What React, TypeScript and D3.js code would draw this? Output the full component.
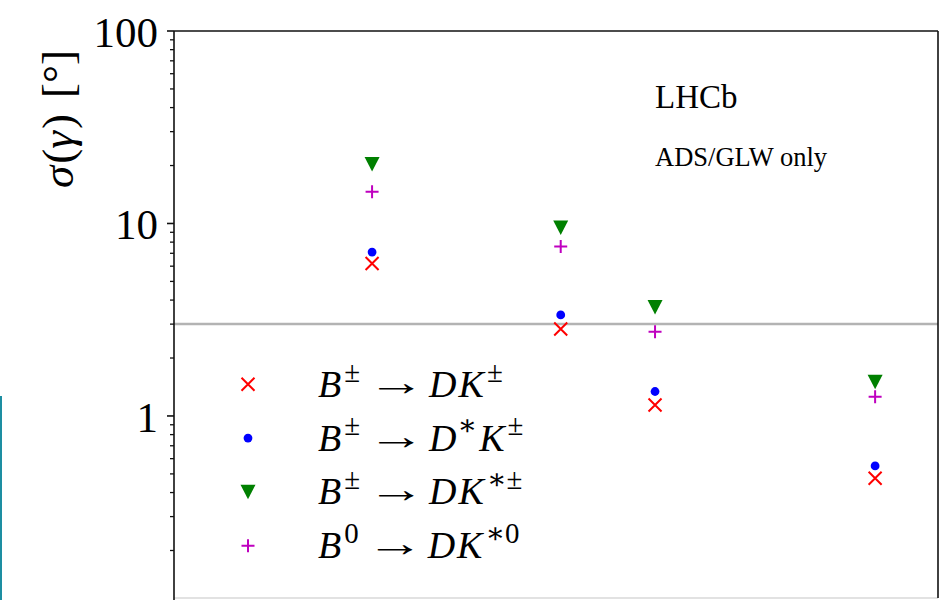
import React, { useLayoutEffect, useRef, useState } from "react";
import * as d3 from "d3";

// ---- Data ----
const stages = [2012, 2018, 2021, 2028];
const seriesKeys = ["dk", "dstark", "dkstar", "b0"];
const dkValues = [6.2, 2.83, 1.14, 0.475];
const dstarkValues = [7.1, 3.35, 1.34, 0.55];
const dkstarValues = [20.3, 9.5, 3.67, 1.5];
const b0Values = [14.6, 7.6, 2.74, 1.26];
const referenceValue = 3;
const majorTicks = [1, 10, 100];
const majorTickLabels = ["1", "10", "100"];

const W = 942;
const H = 600;
const M = { left: 174, right: 938, top: 31, bottom: 598 };

const x = d3.scaleLinear().domain([2005.7, 2030]).range([M.left, M.right]);
const y = d3.scaleLog().domain([0.1133, 100]).range([M.bottom, M.top]);

const minorTicks: number[] = [];
for (const e of [0.1, 1, 10]) {
  for (let k = 2; k <= 9; k++) {
    const v = k * e;
    if (v >= 0.1133 && v <= 100) minorTicks.push(v);
  }
}

type Part = { t: string; it?: boolean; sup?: boolean; dx?: number };

const seriesValues: Record<string, number[]> = {
  dk: dkValues,
  dstark: dstarkValues,
  dkstar: dkstarValues,
  b0: b0Values,
};

const seriesColor: Record<string, string> = {
  dk: "#ff0000",
  dstark: "#0000ff",
  dkstar: "#008000",
  b0: "#bf00bf",
};

const seriesLhs: Record<string, Part[]> = {
  dk: [{ t: "B", it: true }, { t: "±", sup: true, dx: 3 }],
  dstark: [{ t: "B", it: true }, { t: "±", sup: true, dx: 3 }],
  dkstar: [{ t: "B", it: true }, { t: "±", sup: true, dx: 3 }],
  b0: [{ t: "B", it: true }, { t: "0", sup: true, dx: 3 }],
};

const seriesRhs: Record<string, Part[]> = {
  dk: [
    { t: "D", it: true },
    { t: "K", it: true, dx: 2 },
    { t: "±", sup: true, dx: 3 },
  ],
  dstark: [
    { t: "D", it: true },
    { t: "∗", sup: true, dx: 1 },
    { t: "K", it: true, dx: 2 },
    { t: "±", sup: true, dx: 3 },
  ],
  dkstar: [
    { t: "D", it: true },
    { t: "K", it: true, dx: 2 },
    { t: "∗±", sup: true, dx: 3 },
  ],
  b0: [
    { t: "D", it: true },
    { t: "K", it: true, dx: 2 },
    { t: "∗0", sup: true, dx: 3 },
  ],
};

const SERIF = "'Liberation Serif', 'DejaVu Serif', serif";

function Marker({ kind, color }: { kind: string; color: string }) {
  const s = 6.5;
  if (kind === "dk")
    return (
      <path
        d={`M${-s},${-s}L${s},${s}M${-s},${s}L${s},${-s}`}
        stroke={color}
        strokeWidth={2}
        fill="none"
      />
    );
  if (kind === "dstark") return <circle r={4.4} fill={color} />;
  if (kind === "dkstar")
    return <path d="M-7.5,-7.2L7.5,-7.2L0,7.3Z" fill={color} />;
  return (
    <path
      d={`M${-s},0H${s}M0,${-s}V${s}`}
      stroke={color}
      strokeWidth={2}
      fill="none"
    />
  );
}

function renderParts(parts: Part[], size: number) {
  const supShift = -size * 0.4;
  let cur = 0;
  return parts.map((p, i) => {
    const target = p.sup ? supShift : 0;
    const dy = target - cur;
    cur = target;
    return (
      <tspan
        key={i}
        dy={dy}
        dx={p.dx || 0}
        fontStyle={p.it ? "italic" : "normal"}
        fontSize={p.sup ? size * 0.76 : size}
      >
        {p.t}
      </tspan>
    );
  });
}

function MathLabel({
  x0,
  y0,
  lhs,
  rhs,
  size,
}: {
  x0: number;
  y0: number;
  lhs: Part[];
  rhs: Part[];
  size: number;
}) {
  const lref = useRef<SVGTextElement>(null);
  const [lw, setLw] = useState(size * 1.3);
  useLayoutEffect(() => {
    if (lref.current) {
      const b = lref.current.getBBox();
      setLw(b.x + b.width - x0);
    }
  }, [x0]);
  const arrowLen = 58;
  const arrowX = x0 + lw + 7;
  const rhsX = arrowX + arrowLen + 4;
  return (
    <g>
      <text ref={lref} x={x0} y={y0} fontFamily={SERIF} fontSize={size} fill="#000">
        {renderParts(lhs, size)}
      </text>
      <text
        x={arrowX}
        y={y0 - 2}
        textLength={arrowLen}
        lengthAdjust="spacingAndGlyphs"
        fontFamily={SERIF}
        fontSize={size}
        fill="#000"
      >
        →
      </text>
      <text x={rhsX} y={y0} fontFamily={SERIF} fontSize={size} fill="#000">
        {renderParts(rhs, size)}
      </text>
    </g>
  );
}

export default function App() {
  const legendX = 248;
  const legendTextX = 318;
  const legendY0 = 384.3;
  const legendStep = 53.8;

  return (
    <svg
      width={W}
      height={H}
      style={{ position: "absolute", left: 0, top: 0, background: "#fff" }}
    >
      <rect x={0} y={0} width={W} height={H} fill="#fff" />
      {/* stray edge line visible in reference */}
      <rect x={0} y={396} width={2} height={204} fill="#1d8ea2" />

      {/* reference line */}
      <line
        x1={M.left}
        x2={M.right}
        y1={y(referenceValue)}
        y2={y(referenceValue)}
        stroke="#b3b3b3"
        strokeWidth={2.5}
      />

      {/* frame */}
      <line x1={M.left} x2={M.right} y1={M.bottom} y2={M.bottom} stroke="#d9d9d9" strokeWidth={1.5} />
      <line x1={M.left} x2={M.right} y1={M.top} y2={M.top} stroke="#111" strokeWidth={1.6} />
      <line x1={M.right} x2={M.right} y1={M.top} y2={M.bottom} stroke="#111" strokeWidth={1.6} />
      <line x1={M.left} x2={M.left} y1={M.top} y2={H} stroke="#111" strokeWidth={1.6} />

      {/* ticks */}
      {minorTicks.map((v) => (
        <line
          key={"m" + v}
          x1={M.left - 4}
          x2={M.left}
          y1={y(v)}
          y2={y(v)}
          stroke="#111"
          strokeWidth={1.3}
        />
      ))}
      {majorTicks.map((v, i) => (
        <g key={"M" + v}>
          <line
            x1={M.left - 7}
            x2={M.left}
            y1={y(v)}
            y2={y(v)}
            stroke="#111"
            strokeWidth={1.6}
          />
          <text
            x={158}
            y={y(v) + 16}
            textAnchor="end"
            fontFamily={SERIF}
            fontSize={43}
            fill="#000"
          >
            {majorTickLabels[i]}
          </text>
        </g>
      ))}

      {/* y label */}
      <text
        transform="translate(73,119) rotate(-90)"
        textAnchor="middle"
        fontFamily={SERIF}
        fontSize={45}
        fill="#000"
      >
        <tspan fontStyle="italic">σ</tspan>
        <tspan dx={2}>(</tspan>
        <tspan fontStyle="italic">γ</tspan>
        <tspan dx={2}>)</tspan>
        <tspan dx={16}>[°]</tspan>
      </text>

      {/* annotations */}
      <text x={655} y={108} fontFamily={SERIF} fontSize={33} fill="#000">
        LHCb
      </text>
      <text x={655} y={166} fontFamily={SERIF} fontSize={26.5} fill="#000">
        ADS/GLW only
      </text>

      {/* data points */}
      {seriesKeys.map((k) =>
        seriesValues[k].map((v, i) => (
          <g key={k + i} transform={`translate(${x(stages[i])},${y(v)})`}>
            <Marker kind={k} color={seriesColor[k]} />
          </g>
        ))
      )}

      {/* legend */}
      {seriesKeys.map((k, i) => {
        const ly = legendY0 + i * legendStep;
        return (
          <g key={"leg" + k}>
            <g transform={`translate(${legendX},${ly})`}>
              <Marker kind={k} color={seriesColor[k]} />
            </g>
            <MathLabel
              x0={legendTextX}
              y0={ly + 12.4}
              lhs={seriesLhs[k]}
              rhs={seriesRhs[k]}
              size={38}
            />
          </g>
        );
      })}
    </svg>
  );
}
